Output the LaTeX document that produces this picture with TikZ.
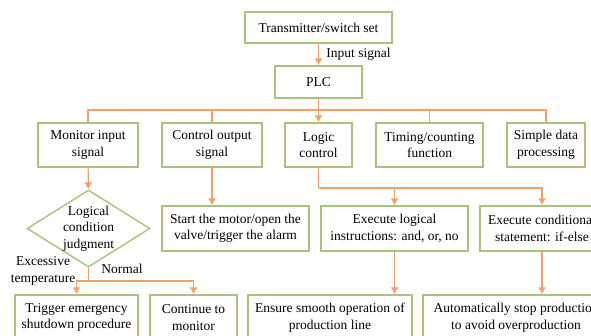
\documentclass[tikz,border=0pt]{standalone}
\usepackage{fontspec}
\setmainfont{Liberation Serif}
\usetikzlibrary{shapes.geometric,arrows.meta,positioning}

\definecolor{boxgreen}{RGB}{168,196,124}
\definecolor{lineorange}{RGB}{245,160,105}

\begin{document}
\begin{tikzpicture}[x=1pt,y=-1pt,
		blk/.style={draw=boxgreen,line width=1.4pt,fill=white,align=center,inner sep=0pt},
		ln/.style={draw=lineorange,line width=1.2pt},
		arr/.style={ln,-{Latex[length=7pt,width=8pt]}},
		lbl/.style={align=center,inner sep=0pt},
		font=\fontsize{13.5}{16.5}\selectfont]
			%\draw[help lines] (0,0) grid[step=20] (591,335);
			\useasboundingbox (0,0) rectangle (591,335);
			\clip (0,0) rectangle (591,335);

			\node[blk,minimum width=147pt,minimum height=31pt] (trans) at (318.5,27.5) {Transmitter/switch set};
			\node[blk,minimum width=87pt,minimum height=32pt] (plc) at (318.5,82) {PLC};

			\node[blk,minimum width=100pt,minimum height=44pt] (monitor) at (88,145) {Monitor input\\signal};
			\node[blk,minimum width=100pt,minimum height=44pt] (ctrlout) at (212,145) {Control output\\signal};
			\node[blk,minimum width=67pt,minimum height=44pt] (logic) at (318.5,145) {Logic\\control};
			\node[blk,minimum width=107pt,minimum height=44pt] (timing) at (429.5,145) {Timing/counting\\function};
			\node[blk,minimum width=78pt,minimum height=44pt] (simple) at (546,145) {Simple data\\processing};

			\node[diamond,draw=boxgreen,line width=1.4pt,fill=white,inner sep=0pt,minimum width=123pt,minimum height=77pt] (judge) at (88.5,228.5) {};
			\node[lbl] (judgetxt) at (judge.center) {Logical\\condition\\judgment};

			\node[blk,minimum width=147pt,minimum height=45pt] (start) at (235.5,228.5) {Start the motor/open the\\valve/trigger the alarm};
			\node[blk,minimum width=147pt,minimum height=45pt] (exlogic) at (394.5,228.5) {Execute logical\\instructions: and, or, no};
			\node[blk,minimum width=124pt,minimum height=45pt] (excond) at (542,228.5) {Execute conditional\\statement: if-else};

			\node[blk,minimum width=123pt,minimum height=45pt] (trigger) at (76.5,317.5) {Trigger emergency\\shutdown procedure};
			\node[blk,minimum width=87pt,minimum height=45pt] (continue) at (193.5,317.5) {Continue to\\monitor};
			\node[blk,minimum width=164pt,minimum height=45pt] (ensure) at (330,317.5) {Ensure smooth operation of\\production line};
			\node[blk,minimum width=186pt,minimum height=45pt] (autostop) at (516,317.5) {Automatically stop production\\to avoid overproduction};

			\draw[arr] (trans) -- (plc) node[midway,right=4pt] {Input signal};

			\coordinate (bus) at (318.5,110);
			\draw[ln] (monitor.north) |- (bus) -| (simple.north);
			\draw[ln] (ctrlout.north) -- (ctrlout.north |- bus);
			\draw[ln] (timing.north) -- (timing.north |- bus);
			\draw[arr] (plc) -- (logic);

			\draw[arr] (monitor) -- (judge);
			\coordinate (jsplit) at (88.5,281);
			\draw[ln] (judge.south) -- (jsplit);
			\draw[arr] (jsplit) -| (trigger.north);
			\draw[arr] (jsplit) -| (continue.north);
			\node[lbl] (excess) at (43,271) {Excessive\\temperature};
			\node[lbl] (normal) at (122,269) {Normal};

			\draw[arr] (ctrlout.south) -- (ctrlout.south |- start.north);

			\coordinate (lsplit) at (318.5,188);
			\draw[ln] (logic.south) -- (lsplit);
			\draw[arr] (lsplit) -| (exlogic.north);
			\draw[arr] (lsplit) -| (excond.north);

			\draw[arr] (exlogic.south) -- (exlogic.south |- ensure.north);
			\draw[arr] (excond.south) -- (excond.south |- autostop.north);
		\end{tikzpicture}
\end{document}
